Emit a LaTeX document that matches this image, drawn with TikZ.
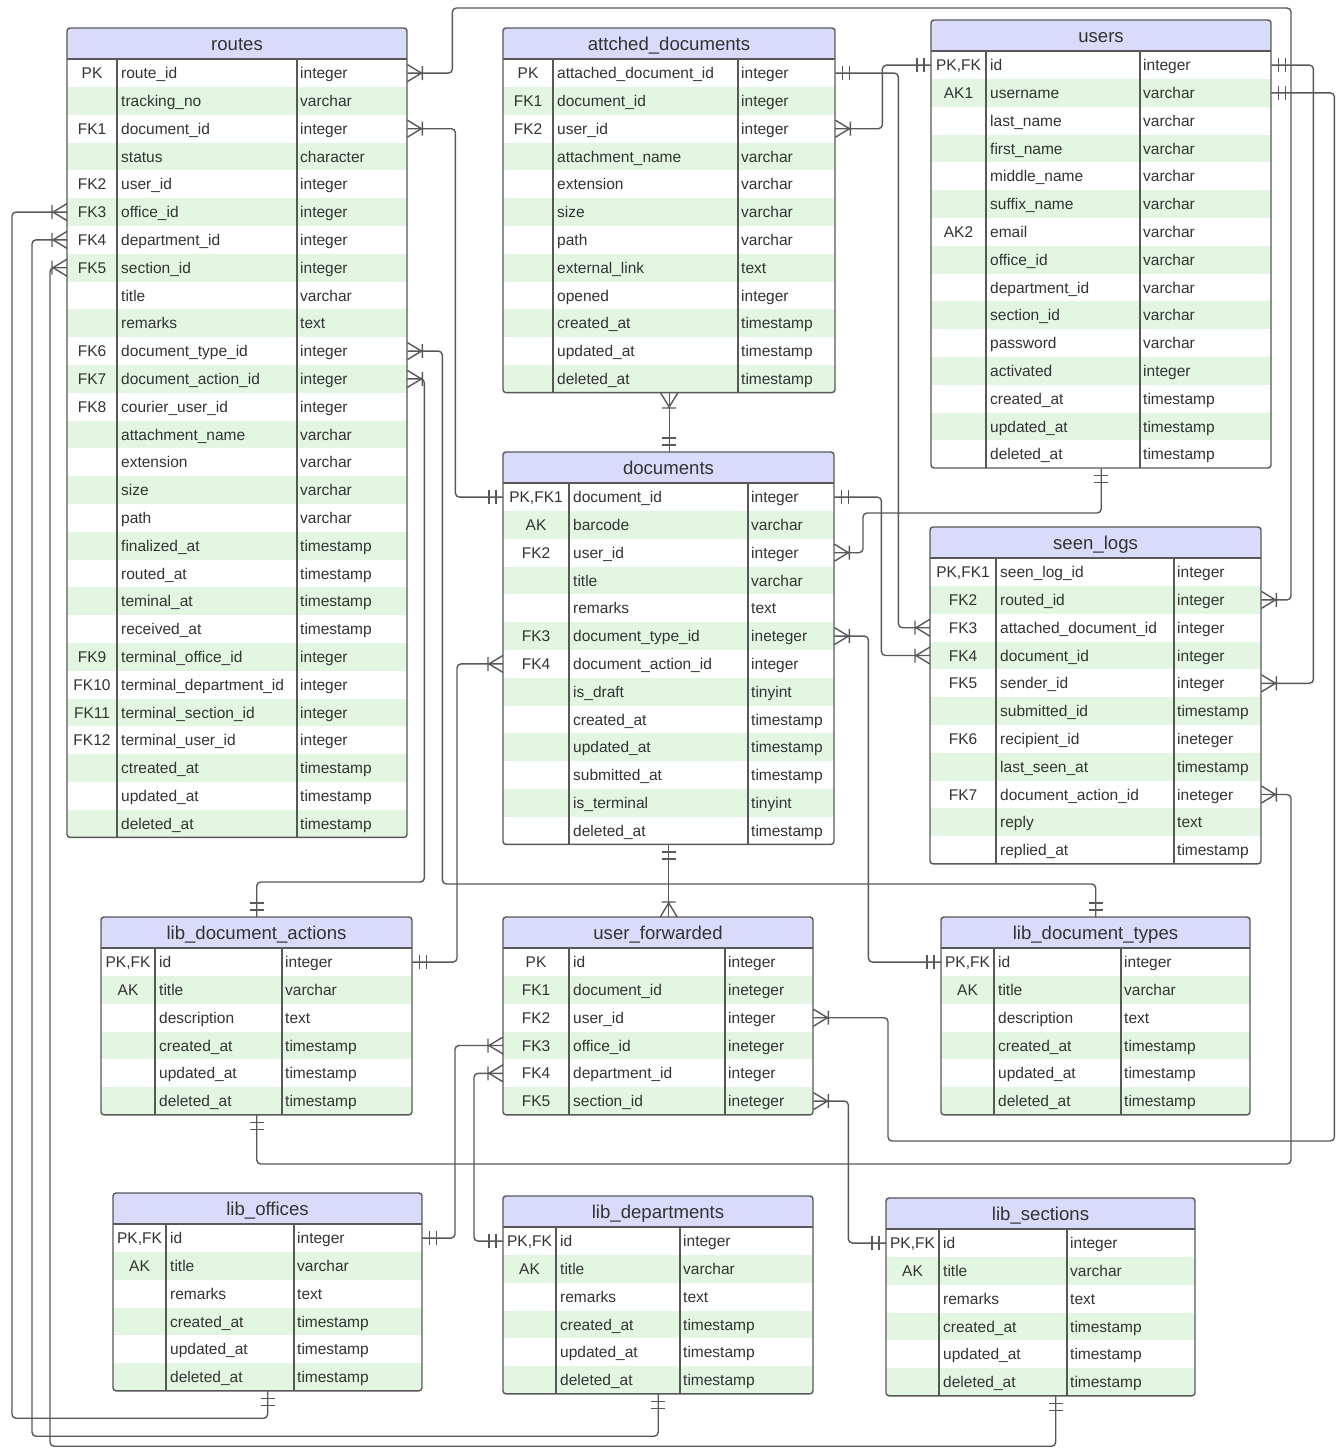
\documentclass[tikz,border=0pt]{standalone}
\usepackage{fontspec}
\setmainfont{Liberation Sans}
\usetikzlibrary{calc,arrows.meta}

\definecolor{headfill}{RGB}{218,218,250}
\definecolor{rowgreen}{RGB}{226,246,226}
\definecolor{erborder}{RGB}{88,88,88}
\definecolor{ertext}{RGB}{51,51,51}

% one or many
\pgfdeclarearrow{
  name = CrowBar,
  setup code = {
    \pgfarrowssettipend{0pt}
    \pgfarrowssetlineend{0pt}
    \pgfarrowssetbackend{-16pt}
    \pgfarrowshullpoint{0pt}{8.5pt}
    \pgfarrowshullpoint{0pt}{-8.5pt}
    \pgfarrowshullpoint{-16pt}{7pt}
    \pgfarrowshullpoint{-16pt}{-7pt}
  },
  drawing code = {
    \pgfpathmoveto{\pgfqpoint{0pt}{8.5pt}}
    \pgfpathlineto{\pgfqpoint{-14pt}{0pt}}
    \pgfpathlineto{\pgfqpoint{0pt}{-8.5pt}}
    \pgfpathmoveto{\pgfqpoint{-15pt}{7pt}}
    \pgfpathlineto{\pgfqpoint{-15pt}{-7pt}}
    \pgfusepathqstroke
  }
}
% exactly one
\pgfdeclarearrow{
  name = BarBar,
  setup code = {
    \pgfarrowssettipend{0pt}
    \pgfarrowssetlineend{0pt}
    \pgfarrowssetbackend{-15pt}
    \pgfarrowshullpoint{0pt}{7pt}
    \pgfarrowshullpoint{0pt}{-7pt}
    \pgfarrowshullpoint{-15pt}{7pt}
    \pgfarrowshullpoint{-15pt}{-7pt}
  },
  drawing code = {
    \pgfpathmoveto{\pgfqpoint{-7pt}{7pt}}
    \pgfpathlineto{\pgfqpoint{-7pt}{-7pt}}
    \pgfpathmoveto{\pgfqpoint{-14pt}{7pt}}
    \pgfpathlineto{\pgfqpoint{-14pt}{-7pt}}
    \pgfusepathqstroke
  }
}

\tikzset{
  errow/.style={draw=none, inner sep=0pt, minimum height=27.8pt},
  erkey/.style={text=ertext, font=\fontsize{15.5}{18}\selectfont, inner sep=0pt},
  erfield/.style={erkey, anchor=base west},
  ertitle/.style={text=ertext, font=\fontsize{18.6}{22}\selectfont, inner sep=0pt, anchor=base},
  erline/.style={draw=erborder, line width=1.4pt},
  conn/.style={draw=erborder, line width=1.4pt, rounded corners=4pt},
}

% #1 name, #2 top left, #3 key col, #4 name col, #5 type col, #6 title, #7 rows
\newcommand\erentity[7]{%
  \begin{scope}[shift={(#2)}]
    \foreach \row [count=\nrow] in {#7} {\xdef\ernum{\nrow}}
    \pgfmathsetmacro\ewidth{#3+#4+#5}
    \pgfmathsetmacro\eheight{31+\ernum*27.8}
    \begin{scope}
      \clip[rounded corners=3pt] (0,0) rectangle (\ewidth,\eheight);
      \fill[headfill] (0,0) rectangle (\ewidth,31);
      \foreach \kcol/\fname/\ftype [count=\ri] in {#7} {
        \pgfmathsetmacro\ytop{31+(\ri-1)*27.8}
        \ifodd\ri\def\rowfill{white}\else\def\rowfill{rowgreen}\fi
        \node[errow, fill=\rowfill, minimum width=\ewidth pt, anchor=north west]
          (#1-\ri) at (0,\ytop) {};
        \node[erkey, anchor=base] (#1-\ri-k) at ($(#1-\ri.west)+(#3/2,5.5)$) {\kcol};
        \node[erfield] (#1-\ri-f) at ($(#1-\ri.west)+(#3+4,5.5)$) {\fname};
        \node[erfield] (#1-\ri-t) at ($(#1-\ri.west)+(#3+#4+3,5.5)$) {\ftype};
      }
    \end{scope}
    \node[inner sep=0pt, minimum width=\ewidth pt, minimum height=\eheight pt,
      anchor=north west] (#1) at (0,0) {};
    \draw[erline, rounded corners=3pt] (0,0) rectangle (\ewidth,\eheight);
    \draw[erline] (0,31) -- (\ewidth,31)
      (#3,31) -- (#3,\eheight)
      (#3+#4,31) -- (#3+#4,\eheight);
    \node[ertitle] (#1-title) at (\ewidth/2,22) {#6};
  \end{scope}}

\begin{document}
\catcode`\_=12
\begin{tikzpicture}[x=1pt, y=-1pt]
  \useasboundingbox (0,0) rectangle (1343,1448);
  \fill[white] (0,0) rectangle (1343,1448);

  \erentity{routes}{67,28}{50}{180}{110}{routes}{PK/route_id/integer,
    /tracking_no/varchar, FK1/document_id/integer, /status/character,
    FK2/user_id/integer, FK3/office_id/integer, FK4/department_id/integer,
    FK5/section_id/integer, /title/varchar, /remarks/text,
    FK6/document_type_id/integer, FK7/document_action_id/integer,
    FK8/courier_user_id/integer, /attachment_name/varchar, /extension/varchar,
    /size/varchar, /path/varchar, /finalized_at/timestamp, /routed_at/timestamp,
    /teminal_at/timestamp, /received_at/timestamp, FK9/terminal_office_id/integer,
    FK10/terminal_department_id/integer, FK11/terminal_section_id/integer,
    FK12/terminal_user_id/integer, /ctreated_at/timestamp, /updated_at/timestamp,
    /deleted_at/timestamp}

  \erentity{attached}{503,28}{50}{185}{97}{attched_documents}{PK/attached_document_id/integer,
    FK1/document_id/integer, FK2/user_id/integer, /attachment_name/varchar,
    /extension/varchar, /size/varchar, /path/varchar, /external_link/text,
    /opened/integer, /created_at/timestamp, /updated_at/timestamp,
    /deleted_at/timestamp}

  \erentity{users}{931,20}{55}{154}{131}{users}{{PK,FK}/id/integer,
    AK1/username/varchar, /last_name/varchar, /first_name/varchar,
    /middle_name/varchar, /suffix_name/varchar, AK2/email/varchar,
    /office_id/varchar, /department_id/varchar, /section_id/varchar,
    /password/varchar, /activated/integer, /created_at/timestamp,
    /updated_at/timestamp, /deleted_at/timestamp}

  \erentity{docs}{503,452}{66}{179}{86}{documents}{{PK,FK1}/document_id/integer,
    AK/barcode/varchar, FK2/user_id/integer, /title/varchar, /remarks/text,
    FK3/document_type_id/ineteger, FK4/document_action_id/integer,
    /is_draft/tinyint, /created_at/timestamp, /updated_at/timestamp,
    /submitted_at/timestamp, /is_terminal/tinyint, /deleted_at/timestamp}

  \erentity{seen}{930,527}{66}{178}{87}{seen_logs}{{PK,FK1}/seen_log_id/integer,
    FK2/routed_id/integer, FK3/attached_document_id/integer,
    FK4/document_id/integer, FK5/sender_id/integer, /submitted_id/timestamp,
    FK6/recipient_id/ineteger, /last_seen_at/timestamp,
    FK7/document_action_id/ineteger, /reply/text, /replied_at/timestamp}

  \erentity{actions}{101,917}{54}{127}{130}{lib_document_actions}{{PK,FK}/id/integer,
    AK/title/varchar, /description/text, /created_at/timestamp,
    /updated_at/timestamp, /deleted_at/timestamp}

  \erentity{fwd}{503,917}{66}{156}{88}{user_forwarded}{PK/id/integer,
    FK1/document_id/ineteger, FK2/user_id/integer, FK3/office_id/ineteger,
    FK4/department_id/integer, FK5/section_id/ineteger}

  \erentity{doctypes}{941,917}{53}{127}{129}{lib_document_types}{{PK,FK}/id/integer,
    AK/title/varchar, /description/text, /created_at/timestamp,
    /updated_at/timestamp, /deleted_at/timestamp}

  \erentity{offices}{113,1193}{53}{128}{128}{lib_offices}{{PK,FK}/id/integer,
    AK/title/varchar, /remarks/text, /created_at/timestamp,
    /updated_at/timestamp, /deleted_at/timestamp}

  \erentity{depts}{503,1196}{53}{124}{133}{lib_departments}{{PK,FK}/id/integer,
    AK/title/varchar, /remarks/text, /created_at/timestamp,
    /updated_at/timestamp, /deleted_at/timestamp}

  \erentity{sections}{886,1198}{53}{128}{128}{lib_sections}{{PK,FK}/id/integer,
    AK/title/varchar, /remarks/text, /created_at/timestamp,
    /updated_at/timestamp, /deleted_at/timestamp}

  % relationships
  \draw[conn, CrowBar-CrowBar] (routes-1.east) -- ++(45,0) |- (1291,8) |- (seen-2.east);
  \draw[conn, CrowBar-BarBar] (routes-3.east) -- ++(48,0) |- (docs-1.west);
  \draw[conn, CrowBar-BarBar] (routes-11.east) -- ++(35,0)
    |- ([yshift=33pt]doctypes.north) -- (doctypes.north);
  \draw[conn, CrowBar-BarBar] (routes-12.east) -- ++(17,0)
    |- ([yshift=35pt]actions.north) -- (actions.north);
  \draw[conn, CrowBar-BarBar] (routes-6.west) -- ++(-55,0)
    |- ([yshift=-27pt]offices.south) -- (offices.south);
  \draw[conn, CrowBar-BarBar] (routes-7.west) -- ++(-35,0)
    |- ([yshift=-42pt]depts.south) -- (depts.south);
  \draw[conn, CrowBar-BarBar] (routes-8.west) -- ++(-17,0)
    |- ([xshift=15pt,yshift=-50pt]sections.south) -- ([xshift=15pt]sections.south);

  \draw[conn, BarBar-CrowBar] (attached-1.east) -- ++(63,0) |- (seen-3.west);
  \draw[conn, CrowBar-BarBar] (attached-3.east) -- ++(47,0) |- (users-1.west);
  \draw[conn, CrowBar-BarBar] (attached.south) -- (attached.south |- docs.north);

  \draw[conn, BarBar-CrowBar] (users-1.east) -- ++(42,0) |- (seen-5.east);
  \draw[conn, BarBar-CrowBar] (users-2.east) -- ++(63,0) |- (888,1141) |- (fwd-3.east);
  \draw[conn, BarBar-CrowBar] (users.south) |- (863,513) |- (docs-3.east);

  \draw[conn, BarBar-CrowBar] (docs-1.east) -- ++(47,0) |- (seen-4.west);
  \draw[conn, CrowBar-BarBar] (docs-6.east) -- ++(34,0) |- (doctypes-1.west);
  \draw[conn, CrowBar-BarBar] (docs-7.west) -- ++(-46,0) |- (actions-1.east);
  \draw[conn, BarBar-CrowBar] (docs.south) -- (docs.south |- fwd.north);

  \draw[conn, CrowBar-BarBar] (fwd-4.west) -- ++(-48,0) |- (offices-1.east);
  \draw[conn, CrowBar-BarBar] (fwd-5.west) -- ++(-29,0) |- (depts-1.west);
  \draw[conn, CrowBar-BarBar] (fwd-6.east) -- ++(35,0) |- (sections-1.west);

  \draw[conn, BarBar-CrowBar] (actions.south) |- (1291,1164) |- (seen-9.east);
\end{tikzpicture}
\end{document}
